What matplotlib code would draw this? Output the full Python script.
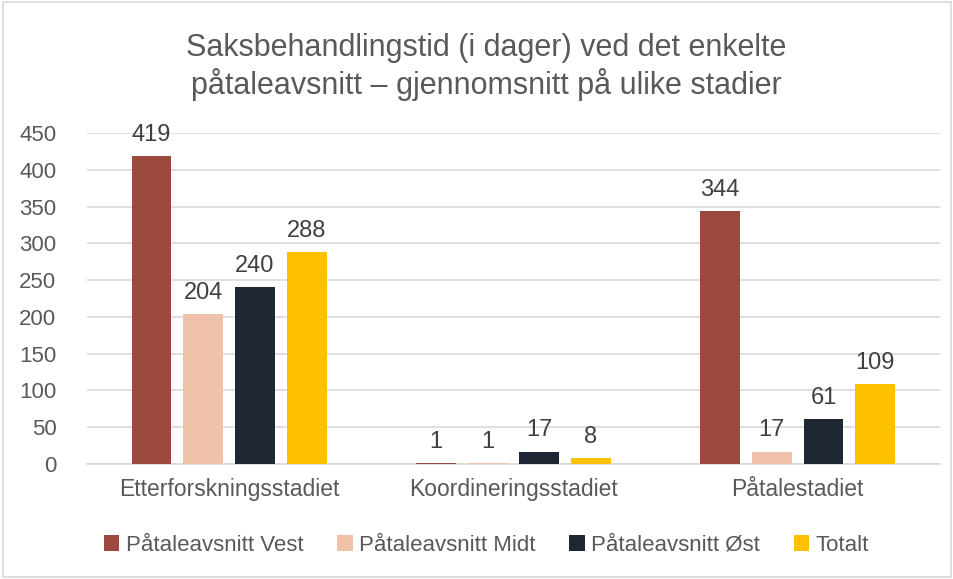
import matplotlib
matplotlib.use("Agg")
import matplotlib.pyplot as plt
import numpy as np
from matplotlib.patches import Rectangle

plt.rcParams['font.family'] = ['Liberation Sans Narrow', 'Liberation Sans', 'DejaVu Sans']

categories = ["Etterforskningsstadiet", "Koordineringsstadiet", "Påtalestadiet"]
series_names = ["Påtaleavsnitt Vest", "Påtaleavsnitt Midt", "Påtaleavsnitt Øst", "Totalt"]
vest = [419, 1, 344]
midt = [204, 1, 17]
ost = [240, 17, 61]
totalt = [288, 8, 109]
colors = ["#9B4A3D", "#F0C2A9", "#1F2634", "#FFC000"]
yticks = [0, 50, 100, 150, 200, 250, 300, 350, 400, 450]

text_color = "#595959"

fig = plt.figure(figsize=(9.54, 5.79), dpi=100)
ax = fig.add_axes([0.0912, 0.1986, 0.8938, 0.5717])

x = np.arange(len(categories))
width = 0.14
step = 0.182
all_series = [vest, midt, ost, totalt]
for i, (vals, name, col) in enumerate(zip(all_series, series_names, colors)):
    offs = (i - 1.5) * step
    bars = ax.bar(x + offs, vals, width, color=col, label=name, zorder=3)
    for b, v in zip(bars, vals):
        ax.text(b.get_x() + b.get_width() / 2, v + 14, str(v), ha='center', va='bottom',
                fontsize=17, color="#404040")

ax.set_xlim(-0.5, 2.5)
ax.set_ylim(0, 450)
ax.set_yticks(yticks)
ax.set_yticklabels([str(t) for t in yticks], fontsize=16, color=text_color)
ax.set_xticks(x)
ax.set_xticklabels(categories, fontsize=16.5, color=text_color)
ax.tick_params(axis='both', length=0, pad=10)
ax.tick_params(axis='y', pad=22)
ax.grid(axis='y', color="#D9D9D9", linewidth=1.2, zorder=0)
for s in ['top', 'right', 'left']:
    ax.spines[s].set_visible(False)
ax.spines['bottom'].set_color("#D9D9D9")
ax.spines['bottom'].set_linewidth(1.2)

fig.text(0.51, 0.884, "Saksbehandlingstid (i dager) ved det enkelte\npåtaleavsnitt – gjennomsnitt på ulike stadier",
         ha='center', va='center', fontsize=22, color=text_color, linespacing=1.2)

leg = fig.legend(loc='center', bbox_to_anchor=(0.51, 0.058), ncol=4, frameon=False,
                 fontsize=16, handlelength=0.7, handleheight=0.7, handletextpad=0.3,
                 columnspacing=1.5)
for t in leg.get_texts():
    t.set_color(text_color)

fig.patches.append(Rectangle((0.003, 0.003), 0.994, 0.994, transform=fig.transFigure,
                             fill=False, edgecolor="#D9D9D9", linewidth=1.2))

fig.savefig("out.png", dpi=100)
